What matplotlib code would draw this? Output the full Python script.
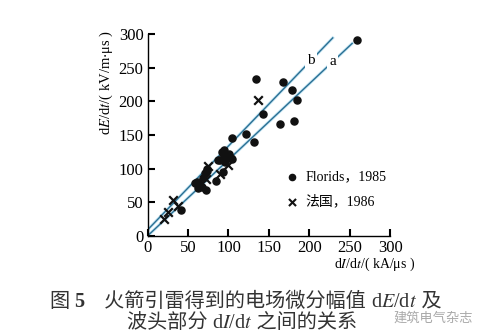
import matplotlib
matplotlib.use("Agg")
import matplotlib.pyplot as plt
import numpy as np

plt.rcParams["font.family"] = ["Liberation Serif", "Noto Sans CJK SC"]
plt.rcParams["mathtext.fontset"] = "stix"

# Florida 1985 measurements (dI/dt, dE/dt)
florida_di = [41, 59, 61, 63, 65, 62, 67, 69, 71, 73, 74, 72,
              85, 87, 90, 92, 93, 94, 95, 96, 101, 103, 105, 104,
              122, 131, 134, 143, 164, 168, 178, 181, 185, 259]
florida_de = [39, 78, 80, 74, 76, 71, 72, 86, 93, 96, 100, 68,
              81, 112, 113, 125, 95, 127, 118, 110, 121, 116, 114, 146,
              152, 140, 233, 181, 166, 228, 216, 171, 202, 291]

# France 1986 measurements
france_di = [20, 25, 32, 37, 72, 75, 90, 100, 137]
france_de = [25, 35, 53, 45, 85, 104, 92, 106, 202]

# regression lines a and b: slope, intercept, x range end
line_a = (1.13, 0.0, 253)
line_b = (1.245, 9.0, 229)

CAPTION_COLOR = "#333333"


def text_chain(ax, x, y, pieces, transform, **kw):
    """Draw text pieces one after another, each with its own style."""
    t = ax.text(x, y, pieces[0][0], transform=transform, va="bottom",
                ha="left", **pieces[0][1], **kw)
    for s, style in pieces[1:]:
        t = ax.annotate(s, xy=(1, 0), xycoords=t, va="bottom", ha="left",
                        annotation_clip=False, **style, **kw)
    return t


fig = plt.figure(figsize=(4.97, 3.36), dpi=100)
ax = fig.add_axes([0.297, 0.298, 0.488, 0.601])

for slope, icpt, xend in (line_a, line_b):
    xs = np.array([0, xend])
    ax.plot(xs, slope * xs + icpt, color="#c6e6f4", lw=2.2, zorder=1)
    ax.plot(xs, slope * xs + icpt, color="#2a6f93", lw=1.0, zorder=2)

ax.text(229, line_a[0] * 229 + line_a[1], "a", ha="center", va="center",
        fontsize=11, zorder=3, bbox=dict(fc="white", ec="none", pad=1.5))
ax.text(202, line_b[0] * 202 + line_b[1], "b", ha="center", va="center",
        fontsize=11, zorder=3, bbox=dict(fc="white", ec="none", pad=1.5))

ax.scatter(florida_di, florida_de, s=26, color="#111111", zorder=4)
ax.scatter(france_di, france_de, s=38, marker="x", color="#111111",
           linewidths=1.6, zorder=4)

# legend drawn by hand
ax.scatter([178], [88], s=20, color="#111111", clip_on=False)
ax.text(195, 88, "Florids，1985", fontsize=10, va="center")
ax.scatter([178], [51], s=26, marker="x", color="#111111",
           linewidths=1.5, clip_on=False)
ax.text(195, 51, "法国，1986", fontsize=10, va="center")

ax.set_xlim(0, 300)
ax.set_ylim(0, 300)
ax.set_xticks(range(0, 301, 50))
ax.set_yticks(range(0, 301, 50))
ax.tick_params(direction="in", length=5, width=1.5, labelsize=12, pad=3)
for side in ["top", "right"]:
    ax.spines[side].set_visible(False)
for side in ["left", "bottom"]:
    ax.spines[side].set_linewidth(1.0)

ax.text(1.105, -0.14, r"d$I$/d$t$/( kA/μs )", transform=ax.transAxes,
        ha="right", va="center", fontsize=10)
ax.text(-0.171, 1.02, r"d$E$/d$t$/( kV/m$\cdot$μs )", transform=ax.transAxes,
        ha="center", va="top", rotation=90, fontsize=10.5)

# caption, two lines
cjk = {"family": ["Noto Sans CJK SC"]}
ser = {"family": ["Liberation Serif"]}
text_chain(ax, 0.10, 0.072, [
    ("图 ", cjk),
    ("5", dict(ser, fontweight="bold")),
    ("　火箭引雷得到的电场微分幅值 ", cjk),
    (r"d$E$/d$t$", ser),
    (" 及", cjk),
], transform=fig.transFigure, fontsize=14.5, color=CAPTION_COLOR)
text_chain(ax, 0.255, 0.010, [
    ("波头部分 ", cjk),
    (r"d$I$/d$t$", ser),
    (" 之间的关系", cjk),
], transform=fig.transFigure, fontsize=14.5, color=CAPTION_COLOR)

fig.text(0.952, 0.052, "建筑电气杂志", fontsize=9.5, color="#aaaaaa",
         va="center", ha="right")

fig.savefig("out.png", dpi=100)
